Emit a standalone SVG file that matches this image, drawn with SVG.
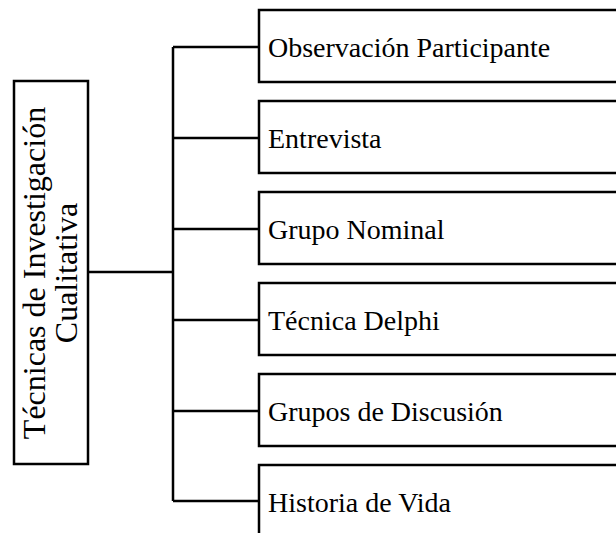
<svg xmlns="http://www.w3.org/2000/svg" width="616" height="533" viewBox="0 0 616 533">
<style>
.box{fill:#fff;stroke:#000;stroke-width:2.5}
.ln{fill:none;stroke:#000;stroke-width:2.5}
.t{font-family:"Liberation Serif","Times New Roman",serif;font-size:28px;fill:#000}
.tv{font-family:"Liberation Serif","Times New Roman",serif;font-size:32px;fill:#000;text-anchor:middle}
</style>
<rect width="616" height="533" fill="#fff"/>
<g id="connectors">
<path class="ln" d="M88 272H173M173 47V501M173 47H259M173 138H259M173 229H259M173 320H259M173 411H259M173 501H259"/>
</g>
<g id="root">
<rect class="box" x="14" y="81" width="74" height="383"/>
<text class="tv" transform="translate(45 273) rotate(-90)" x="0" y="0">Técnicas de Investigación</text>
<text class="tv" transform="translate(77 273) rotate(-90)" x="0" y="0">Cualitativa</text>
</g>
<g id="n1"><rect class="box" x="259" y="10" width="370" height="72"/><text class="t" x="268" y="57">Observación Participante</text></g>
<g id="n2"><rect class="box" x="259" y="101" width="370" height="72"/><text class="t" x="268" y="148">Entrevista</text></g>
<g id="n3"><rect class="box" x="259" y="192" width="370" height="72"/><text class="t" x="268" y="239">Grupo Nominal</text></g>
<g id="n4"><rect class="box" x="259" y="283" width="370" height="72"/><text class="t" x="268" y="330">Técnica Delphi</text></g>
<g id="n5"><rect class="box" x="259" y="374" width="370" height="72"/><text class="t" x="268" y="421">Grupos de Discusión</text></g>
<g id="n6"><rect class="box" x="259" y="465" width="370" height="72"/><text class="t" x="268" y="512">Historia de Vida</text></g>
</svg>
